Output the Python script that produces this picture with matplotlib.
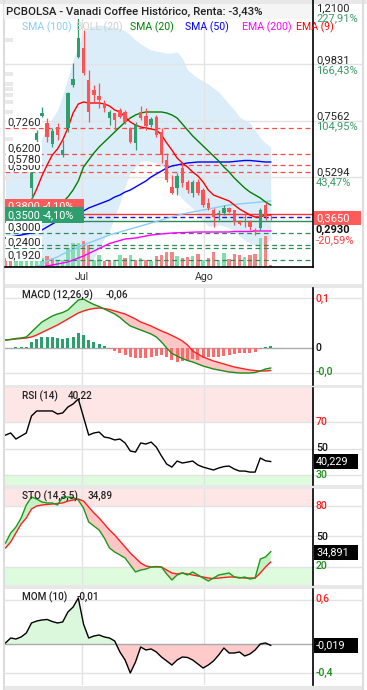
import matplotlib
matplotlib.use('Agg')
import matplotlib.pyplot as plt
import numpy as np
from matplotlib.patches import Rectangle
from matplotlib.lines import Line2D

plt.rcParams['font.family'] = ['Roboto', 'DejaVu Sans']
plt.rcParams['lines.scale_dashes'] = False

# ---------------- data ----------------
opens = [0.392, 0.385, 0.376, 0.382, 0.390, 0.4836, 0.6775, 0.776, 0.746, 0.6614,
         0.730, 0.6169, 0.726, 0.8997, 1.0128, 1.0492, 0.9199, 0.8795, 0.8553, 0.827,
         0.7664, 0.7866, 0.7987, 0.7906, 0.726, 0.6654, 0.7906, 0.7745, 0.7381, 0.7704,
         0.7098, 0.5967, 0.4876, 0.4836, 0.5644, 0.5078, 0.4634, 0.5078, 0.4755, 0.423,
         0.3947, 0.3745, 0.3826, 0.4028, 0.3947, 0.3462, 0.3664, 0.3462, 0.3139, 0.322,
         0.4149, 0.3664]
highs = [0.400, 0.392, 0.388, 0.396, 0.412, 0.5523, 0.7179, 0.8108, 0.7664, 0.726,
         0.746, 0.6775, 0.8714, 0.9886, 1.21, 1.122, 0.9603, 0.8997, 0.9078, 0.8391,
         0.7987, 0.7866, 0.8068, 0.7987, 0.730, 0.7502, 0.8149, 0.8068, 0.7704, 0.7785,
         0.726, 0.625, 0.536, 0.5442, 0.5846, 0.5159, 0.5159, 0.520, 0.4836, 0.4432,
         0.4028, 0.3947, 0.4149, 0.4068, 0.3947, 0.3543, 0.3826, 0.3543, 0.322, 0.4028,
         0.427, 0.3745]
lows = [0.378, 0.370, 0.370, 0.378, 0.385, 0.423, 0.6694, 0.7704, 0.6694, 0.6492,
        0.6775, 0.6088, 0.7098, 0.8916, 1.0088, 0.9401, 0.7502, 0.831, 0.8068, 0.7906,
        0.7381, 0.7179, 0.7664, 0.7422, 0.6654, 0.6371, 0.7583, 0.7179, 0.730, 0.6896,
        0.5846, 0.5078, 0.458, 0.4553, 0.4876, 0.4634, 0.4472, 0.4553, 0.4068, 0.3947,
        0.326, 0.3543, 0.3745, 0.3826, 0.3341, 0.3341, 0.326, 0.3139, 0.293, 0.3139,
        0.3543, 0.3543]
closes = [0.383, 0.378, 0.384, 0.392, 0.405, 0.5442, 0.7058, 0.786, 0.6896, 0.7139,
          0.6977, 0.6371, 0.8674, 0.924, 1.0896, 0.9482, 0.7906, 0.8593, 0.8391, 0.8068,
          0.7906, 0.7583, 0.7704, 0.7502, 0.6694, 0.7381, 0.7664, 0.7341, 0.7624, 0.6977,
          0.6169, 0.5159, 0.4634, 0.5321, 0.5038, 0.4755, 0.5078, 0.4634, 0.4149, 0.4028,
          0.3664, 0.3826, 0.4028, 0.3866, 0.3462, 0.3381, 0.3624, 0.326, 0.3099, 0.3947,
          0.3664, 0.365]
volume = [95, 85, 80, 75, 85, 100, 95, 90, 107, 90, 73, 73, 190, 240, 240, 257, 217, 73,
          123, 63, 73, 73, 117, 90, 117, 73, 90, 73, 57, 107, 117, 150, 150, 107, 90, 97,
          107, 130, 73, 90, 150, 73, 140, 83, 130, 117, 97, 123, 130, 290, 307, 23]
volume_up = [0, 0, 1, 1, 1, 1, 1, 1, 0, 0, 1, 1, 1, 1, 1, 0, 0, 1, 1, 0, 0, 1, 1, 0, 1, 0,
             1, 0, 1, 0, 0, 0, 0, 1, 0, 0, 1, 0, 1, 0, 0, 1, 1, 0, 0, 0, 1, 0, 0, 1, 0, 0]
ema9 = [0.3866, 0.3866, 0.3907, 0.3947, 0.4028, 0.4351, 0.4796, 0.5321, 0.5765, 0.6169,
        0.6412, 0.6775, 0.726, 0.7866, 0.823, 0.831, 0.827, 0.827, 0.827, 0.823,
        0.8149, 0.7987, 0.7906, 0.7704, 0.7502, 0.7381, 0.730, 0.726, 0.722, 0.7179,
        0.6977, 0.6654, 0.6371, 0.6048, 0.5846, 0.5684, 0.5482, 0.5321, 0.5078, 0.4755,
        0.4553, 0.4472, 0.4392, 0.4311, 0.4149, 0.3987, 0.3866, 0.3745, 0.3664, 0.3664,
        0.3745, 0.3745]
sma20 = [0.3786, 0.3786, 0.3826, 0.3826, 0.3866, 0.3866, 0.3866, 0.3907, 0.3907, 0.3947,
         0.4068, 0.427, 0.4472, 0.4755, 0.5119, 0.5684, 0.5967, 0.625, 0.6492, 0.6694,
         0.6896, 0.7098, 0.730, 0.7502, 0.7664, 0.7785, 0.7866, 0.7906, 0.7906, 0.7906,
         0.7906, 0.7866, 0.7785, 0.7664, 0.7422, 0.7179, 0.6937, 0.6735, 0.6533, 0.6331,
         0.6129, 0.5927, 0.5684, 0.5482, 0.524, 0.5038, 0.4836, 0.4674, 0.4553, 0.4432,
         0.427, 0.4149]
sma50 = [0.2816, 0.2856, 0.2897, 0.2937, 0.2978, 0.3018, 0.3058, 0.3139, 0.326, 0.3382,
         0.3503, 0.3584, 0.3664, 0.3745, 0.3826, 0.3907, 0.4028, 0.4109, 0.419, 0.427,
         0.4351, 0.4472, 0.4553, 0.4674, 0.4755, 0.4876, 0.4998, 0.5119, 0.528, 0.5402,
         0.5523, 0.5644, 0.5725, 0.5765, 0.5806, 0.5846, 0.5866, 0.5886, 0.5886, 0.5886,
         0.5886, 0.5886, 0.5886, 0.5886, 0.5906, 0.5927, 0.5947, 0.5947, 0.5927, 0.5906,
         0.5886, 0.5886]
sma100 = [0.0917, 0.1039, 0.1160, 0.1281, 0.1402, 0.1523, 0.1644, 0.1765, 0.1887, 0.1967,
          0.2048, 0.2170, 0.2250, 0.2331, 0.2452, 0.2533, 0.2614, 0.2695, 0.2775, 0.2856,
          0.2937, 0.2998, 0.3058, 0.3119, 0.3180, 0.3240, 0.3301, 0.3361, 0.3422, 0.3483,
          0.3543, 0.3604, 0.3664, 0.3725, 0.3786, 0.3826, 0.3866, 0.3907, 0.3947, 0.3988,
          0.4028, 0.4068, 0.4109, 0.4149, 0.4169, 0.4190, 0.4210, 0.4230, 0.4250, 0.4270,
          0.4291, 0.4311]
ema200 = [0.1240, 0.1301, 0.1362, 0.1422, 0.1483, 0.1543, 0.1604, 0.1644, 0.1685, 0.1725,
          0.1765, 0.1806, 0.1846, 0.1927, 0.2008, 0.2088, 0.2190, 0.2291, 0.2392, 0.2493,
          0.2594, 0.2654, 0.2715, 0.2775, 0.2795, 0.2816, 0.2856, 0.2897, 0.2937, 0.2957,
          0.2978, 0.2998, 0.3018, 0.3026, 0.3034, 0.3042, 0.3050, 0.3058, 0.3058, 0.3058,
          0.3058, 0.3058, 0.3058, 0.3058, 0.3079, 0.3079, 0.3079, 0.3079, 0.3099, 0.3099,
          0.3099, 0.3099]
boll_upper = [0.5483, 0.5523, 0.5563, 0.5604, 0.5644, 0.5765, 0.6371, 0.6856, 0.7300, 0.7664,
              0.7987, 0.8593, 0.9280, 1.0007, 1.0613, 1.1098, 1.1300, 1.1381, 1.1421, 1.1401,
              1.1361, 1.1320, 1.1280, 1.1179, 1.1017, 1.0815, 1.0654, 1.0532, 1.0411, 1.0371,
              1.0331, 1.0290, 1.0290, 1.0331, 1.0088, 0.9603, 0.9442, 0.9280, 0.9159, 0.9038,
              0.8876, 0.8715, 0.8472, 0.8230, 0.7987, 0.7704, 0.7583, 0.7462, 0.7179, 0.6856,
              0.6654, 0.6493]
boll_lower = [0.2816, 0.2735, 0.2654, 0.2614, 0.2574, 0.2331, 0.1847, 0.13, 0.09, 0.06,
              0.04, 0.03, 0.03, 0.04, 0.06, 0.10, 0.15, 0.20, 0.24, 0.28,
              0.31, 0.37, 0.422, 0.49, 0.546, 0.57, 0.59, 0.595, 0.59, 0.585,
              0.575, 0.55, 0.51, 0.465, 0.44, 0.42, 0.40, 0.375, 0.35, 0.33,
              0.3301, 0.3341, 0.3301, 0.3220, 0.3058, 0.2897, 0.2735, 0.2614, 0.2533, 0.2493,
              0.2614, 0.2735]
macd = [0.016, 0.017, 0.019, 0.020, 0.022, 0.032, 0.042, 0.052, 0.058, 0.064,
        0.068, 0.071, 0.076, 0.086, 0.096, 0.098, 0.092, 0.087, 0.083, 0.078,
        0.073, 0.068, 0.061, 0.052, 0.044, 0.040, 0.036, 0.032, 0.028, 0.022,
        0.012, 0.000, -0.011, -0.016, -0.021, -0.025, -0.028, -0.032, -0.036, -0.039,
        -0.042, -0.044, -0.046, -0.048, -0.049, -0.050, -0.050, -0.050, -0.049, -0.046,
        -0.042, -0.040]
macd_signal = [0.016, 0.017, 0.018, 0.019, 0.020, 0.022, 0.026, 0.031, 0.036, 0.041,
               0.046, 0.052, 0.058, 0.064, 0.070, 0.074, 0.077, 0.079, 0.080, 0.079,
               0.077, 0.074, 0.071, 0.068, 0.063, 0.058, 0.052, 0.048, 0.044, 0.039,
               0.034, 0.030, 0.025, 0.020, 0.014, 0.006, -0.006, -0.012, -0.018, -0.022,
               -0.026, -0.029, -0.032, -0.035, -0.038, -0.040, -0.042, -0.044, -0.045, -0.046,
               -0.046, -0.045]
macd_hist = [0.001, 0.001, 0.002, 0.002, 0.002, 0.013, 0.018, 0.023, 0.023, 0.022,
             0.020, 0.018, 0.020, 0.022, 0.030, 0.027, 0.017, 0.013, 0.008, 0.005,
             -0.002, -0.005, -0.009, -0.013, -0.017, -0.019, -0.020, -0.020, -0.018, -0.015,
             -0.013, -0.017, -0.023, -0.027, -0.025, -0.023, -0.022, -0.023, -0.020, -0.018,
             -0.018, -0.017, -0.015, -0.013, -0.011, -0.010, -0.009, -0.009, -0.007, -0.001,
             0.003, 0.005]
rsi = [60.3, 61.9, 57.3, 59.6, 61.9, 74.8, 78.6, 78.6, 78.6, 78.6,
       76.3, 77.1, 81.6, 83.9, 87.7, 74.0, 60.3, 61.9, 62.6, 58.8,
       58.1, 56.6, 57.3, 54.3, 48.2, 47.4, 54.3, 53.5, 55.0, 51.2,
       44.4, 38.3, 36.0, 40.6, 39.1, 39.8, 40.6, 37.6, 36.0, 34.9,
       33.8, 35.3, 36.4, 36.8, 34.5, 33.0, 33.0, 32.2, 32.2, 42.9,
       40.8, 40.229]
sto_k = [43.4, 53.3, 59.2, 68.1, 81.0, 88.9, 86.9, 84.0, 83.0, 83.0,
         81.0, 88.9, 88.9, 88.4, 85.9, 78.0, 64.2, 60.2, 56.3, 48.4,
         38.5, 34.5, 31.6, 28.6, 21.7, 14.8, 16.7, 17.7, 19.7, 19.7,
         19.7, 12.8, 6.9, 11.8, 13.8, 11.8, 14.8, 11.8, 8.8, 5.9,
         8.8, 11.8, 12.8, 13.8, 9.8, 8.8, 9.8, 7.8, 8.8, 27.6,
         29.6, 34.891]
sto_d = [38.5, 44.4, 53.3, 62.2, 68.1, 77.0, 80.0, 81.0, 81.5, 82.0,
         82.5, 83.0, 84.9, 85.9, 86.9, 84.9, 79.0, 73.1, 68.1, 62.2,
         56.3, 51.3, 45.4, 39.5, 33.5, 28.6, 23.7, 20.7, 19.7, 20.2,
         19.7, 16.7, 13.8, 12.8, 13.8, 12.8, 11.8, 10.8, 9.8, 8.8,
         8.3, 8.8, 9.3, 9.8, 9.8, 9.3, 8.8, 8.8, 8.8, 13.8,
         19.7, 24.6]
mom = [0.014, 0.082, 0.068, 0.096, 0.150, 0.287, 0.314, 0.328, 0.335, 0.307,
       0.287, 0.301, 0.437, 0.505, 0.628, 0.273, 0.082, 0.109, 0.123, 0.096,
       0.082, 0.041, -0.109, -0.219, -0.396, -0.246, -0.041, -0.082, -0.068, -0.109,
       -0.178, -0.232, -0.287, -0.219, -0.178, -0.184, -0.219, -0.273, -0.328, -0.287,
       -0.232, -0.150, -0.055, -0.123, -0.123, -0.109, -0.164, -0.137, -0.082, 0.000,
       0.014, -0.019]
resistance_levels = [0.726, 0.62, 0.578, 0.55]
support_levels = [0.30, 0.253, 0.24, 0.192]
month_labels = ['Jul', 'Ago']
month_index = [14.71, 38.17]
price_ticks = [1.2100, 0.9831, 0.7562, 0.5294]
price_pct = ['227,91%', '166,43%', '104,95%', '43,47%']

# ---------------- layout helpers ----------------
W, H = 367, 690
fig = plt.figure(figsize=(W / 100, H / 100), dpi=100)
fig.patch.set_facecolor('white')

X0, DX = 5.5, 5.2           # pixel of index 0, pixel step
LPX, RPX = 5, 313
XLIM = ((LPX - X0) / DX, (RPX - X0) / DX)
EXT = (362 - LPX) / (RPX - LPX)   # axes fraction reaching the outer frame

def add_ax(t, b):
    ax = fig.add_axes([LPX / W, 1 - b / H, (RPX - LPX) / W, (b - t) / H])
    ax.set_xlim(*XLIM)
    ax.patch.set_alpha(0)
    for s in ax.spines.values():
        s.set_visible(False)
    ax.set_xticks([])
    ax.set_yticks([])
    return ax

def ftext(x, y, s, **kw):
    kw.setdefault('va', 'center')
    kw.setdefault('ha', 'left')
    kw.setdefault('fontsize', 8.0)
    kw.setdefault('color', '#222222')
    kw.setdefault('zorder', 20)
    return fig.text(x / W, 1 - y / H, s, **kw)

def frect(x0, y0, x1, y1, color, z=15):
    fig.add_artist(Rectangle((x0 / W, 1 - y1 / H), (x1 - x0) / W, (y1 - y0) / H,
                             transform=fig.transFigure, facecolor=color,
                             edgecolor='none', zorder=z))

def fline(x0, y0, x1, y1, color='black', lw=1.0, z=16):
    fig.add_artist(Line2D([x0 / W, x1 / W], [1 - y0 / H, 1 - y1 / H],
                          transform=fig.transFigure, color=color, lw=lw, zorder=z))

GRID = '#e3e3e3'
x = np.arange(len(closes))
o, h, l, c = map(np.array, (opens, highs, lows, closes))

# ---------------- frame & separators ----------------
frect(0, 0, 367, 3.5, '#e8e8e8', z=0.1)
for (y0, y1) in [(284, 287.5), (385, 388), (485, 489), (585, 589), (686, 690)]:
    frect(3, y0, 363, y1, '#e8e8e8', z=0.1)
fline(3.5, 0, 3.5, 690, '#dddddd', 1.5, z=0.2)
fline(362.5, 0, 362.5, 690, '#dddddd', 1.5, z=0.2)

# ---------------- main price panel ----------------
PT, PB = 2, 267
YLO, YHI = 0.1644, 1.2350
ax = add_ax(PT, PB)
ax.set_ylim(YLO, YHI)

ax.fill_between(x, boll_lower, boll_upper, color='#dcedfa', lw=0, zorder=0.5)
for t in price_ticks[1:]:
    ax.axhline(t, xmin=0, xmax=EXT, color=GRID, lw=1, zorder=0.8, clip_on=False)
for m in month_index:
    ax.axvline(m, color=GRID, lw=1, zorder=0.8)

# volume bars at the bottom of the price panel (35 px band = 350 units)
vol_scale = (YHI - YLO) / (PB - PT) * 35 / 350
vcol = ['#80dfaa' if u else '#f58585' for u in volume_up]
ax.bar(x, np.array(volume) * vol_scale, bottom=YLO, width=0.68, color=vcol, zorder=1)

for lv in resistance_levels:
    ax.axhline(lv, color='#ff4a4a', lw=0.9, ls=(0, (3.5, 2.5)), zorder=2)
for lv in support_levels:
    ax.axhline(lv, color='#2e8b57', lw=0.9, ls=(0, (3.5, 2.5)), zorder=2)
ax.axhline(0.38, color='#ff3333', lw=1.0, zorder=2)
ax.axhline(0.35, color='#2e8b57', lw=1.0, zorder=2)
ax.axhline(0.365, color='#1a1acc', lw=1.0, ls=(0, (3.5, 2.5)), zorder=2)

ax.plot(x, sma100, color='#87cefa', lw=1.0, zorder=3)
ax.plot(x, ema200, color='#ff00ff', lw=1.0, zorder=3)
ax.plot(x, sma50, color='#0000ff', lw=1.0, zorder=3)
ax.plot(x, sma20, color='#008000', lw=1.0, zorder=3)
ax.plot(x, ema9, color='#ff0000', lw=1.0, zorder=3)

up = c >= o
ccol = np.where(up, '#2e9e6e', '#ff5252')
ax.vlines(x, l, h, colors=ccol, lw=0.9, zorder=4)
body = np.maximum(np.abs(c - o), 0.0025)
ax.bar(x, body, bottom=np.minimum(o, c), width=0.64, color=ccol, zorder=5)

fline(RPX, 0, RPX, PB, 'black', 1.2)
fline(LPX, PB, RPX, PB, 'black', 1.2)

# ghost placeholders on the left edge
for yy in [40, 74, 83.5, 88.5, 95, 101.5, 111.5, 138.5, 168.5, 177.5]:
    frect(5, yy - 2, 12.5, yy + 2, '#e9e9e9', z=14)

# header
frect(4, 3.5, RPX, 18.5, '#f5f5f5', z=14)
ftext(6, 11.5, 'PCBOLSA - Vanadi Coffee Histórico, Renta: -3,43%', fontsize=8.2,
      fontweight='medium')
legend_items = [('SMA (100)', '#87cefa', 22), ('BOLL (20)', '#d0d0d0', 76),
                ('SMA (20)', '#008000', 130), ('SMA (50)', '#0000ff', 185),
                ('EMA (200)', '#ff00ff', 242), ('EMA (9)', '#ff0000', 296)]
for s, col, xx in legend_items:
    ftext(xx, 27, s, color=col, fontsize=7.6)

# left level labels
white = dict(facecolor='white', edgecolor='none', pad=1.0)
ftext(7, 122, '0,7260', bbox=white)
ftext(7, 148, '0,6200', bbox=white)
ftext(7, 166, '0,5500', bbox=white)
ftext(7, 159, '0,5780', bbox=white)
ftext(7, 227, '0,3000', bbox=white)
ftext(7, 242, '0,2400', bbox=white)
ftext(7, 255, '0,1920', bbox=white)
frect(5, 199, 84, 213, '#ff5a5a', z=18)
ftext(7, 206, '0,3800', color='white', zorder=18.5, fontsize=7.8)
ftext(43, 206, '-4,10%', color='white', zorder=18.5, fontsize=7.8)
frect(5, 207, 84, 222.5, '#2e9e6e', z=19)
ftext(7, 215, '0,3500', color='white', zorder=19.5, fontsize=7.8)
ftext(43, 215, '-4,10%', color='white', zorder=19.5, fontsize=7.8)

# right price labels
ypos = [8.5, 60, 116, 172.5]
for t, pc, yy in zip(price_ticks, price_pct, ypos):
    ftext(316, yy, ('%.4f' % t).replace('.', ','))
    ftext(316, yy + 10, pc, color='#3a9a6a')
frect(314, 211, 361, 225, '#ff5a5a', z=18)
ftext(316, 218, '0,3650', color='white', zorder=19)
ftext(316, 230, '0,2930', fontweight='bold', color='#111111')
ftext(316, 240.5, '-20,59%', color='#ff4040')

# month labels
for s, m in zip(month_labels, month_index):
    ftext(X0 + DX * m, 277, s, ha='center', fontsize=7.6, color='#333333')

# ---------------- indicator panels ----------------
def panel(t, b, lo, hi, grid_vals):
    a = add_ax(t, b)
    a.set_ylim(lo, hi)
    for g in grid_vals:
        a.axhline(g, xmin=0, xmax=EXT, color=GRID, lw=1, zorder=0.8, clip_on=False)
    for m in month_index:
        a.axvline(m, color=GRID, lw=1, zorder=0.8)
    fline(RPX, t, RPX, b, 'black', 1.2)
    return a

def valbox(y, s):
    frect(314, y - 7.5, 358, y + 7.5, 'black', z=18)
    ftext(316, y, s, color='white', fontsize=7.8, zorder=19)

# MACD
mt, mb = 288, 385
a1 = panel(mt, mb, -(mb - 348) * 0.002, (348 - mt) * 0.002, [0.1, -0.05])
mc, ms = np.array(macd), np.array(macd_signal)
a1.axhline(0, color='#aaaaaa', lw=1, zorder=1)
hcol = ['#2e9e6e' if v >= 0 else '#ff6b6b' for v in macd_hist]
a1.bar(x, macd_hist, width=0.6, color=hcol, zorder=2)
a1.fill_between(x, mc, ms, where=mc >= ms, interpolate=True, color='#c4f2c4', lw=0, zorder=1.5)
a1.fill_between(x, mc, ms, where=mc < ms, interpolate=True, color='#ffc6c6', lw=0, zorder=1.5)
a1.plot(x, ms, color='#ff2020', lw=1, zorder=3)
a1.plot(x, mc, color='#1a8f1a', lw=1, zorder=3)
ftext(22, 295, 'MACD (12,26,9)', fontsize=7.2, fontweight='medium')
ftext(106, 295, '-0,06', fontsize=7.2, fontweight='medium')
ftext(316, 299, '0,1', color='#ff2020', fontsize=7.6, fontweight='medium')
ftext(316, 348, '0', color='#111111', fontsize=7.6, fontweight='medium')
ftext(316, 372, '-0,0', color='#1a8f1a', fontsize=7.6, fontweight='medium')

# RSI
rt, rb = 388, 485
k = 1.3175
a2 = panel(rt, rb, 30 - (rb - 475) / k, 70 + (422.3 - rt) / k, [70, 50, 30])
a2.axhspan(70, 200, color='#ffe6e6', lw=0, zorder=0.3)
a2.axhspan(-100, 30, color='#defbde', lw=0, zorder=0.3)
a2.plot(x, rsi, color='black', lw=1, zorder=3)
ftext(22, 396, 'RSI (14)', fontsize=7.2, fontweight='medium')
ftext(68, 396, '40,22', fontsize=7.2, fontweight='medium')
ftext(316, 422, '70', color='#ff2020', fontsize=7.6, fontweight='medium')
ftext(316, 448, '50', color='#111111', fontsize=7.6, fontweight='medium')
ftext(316, 474.5, '30', color='#1a8f1a', fontsize=7.6, fontweight='medium')
valbox(461.5, '40,229')

# STO
st, sb = 489, 585
k2 = 1.0117
a3 = panel(st, sb, 20 - (sb - 566.7) / k2, 80 + (506 - st) / k2, [80, 50, 20])
a3.axhspan(80, 200, color='#ffe6e6', lw=0, zorder=0.3)
a3.axhspan(-100, 20, color='#defbde', lw=0, zorder=0.3)
sk, sd = np.array(sto_k), np.array(sto_d)
a3.fill_between(x, sk, sd, where=sk >= sd, interpolate=True, color='#c4f2c4', lw=0, zorder=1.5)
a3.fill_between(x, sk, sd, where=sk < sd, interpolate=True, color='#ffc6c6', lw=0, zorder=1.5)
a3.plot(x, sd, color='#ff2020', lw=1, zorder=3)
a3.plot(x, sk, color='#1a9a1a', lw=1, zorder=3)
ftext(22, 496, 'STO (14,3,5)', fontsize=7.2, fontweight='medium')
ftext(88, 496, '34,89', fontsize=7.2, fontweight='medium')
ftext(316, 506, '80', color='#ff2020', fontsize=7.6, fontweight='medium')
ftext(316, 537, '50', color='#111111', fontsize=7.6, fontweight='medium')
ftext(316, 566, '20', color='#1a8f1a', fontsize=7.6, fontweight='medium')
valbox(552, '34,891')

# MOM
ot, ob = 589, 685
k3 = 73.2
a4 = panel(ot, ob, -(ob - 644) / k3, (644 - ot) / k3, [0.6, -0.4])
mm = np.array(mom)
a4.fill_between(x, mm, 0, where=mm >= 0, interpolate=True, color='#dcf8dc', lw=0, zorder=1.5)
a4.fill_between(x, mm, 0, where=mm < 0, interpolate=True, color='#ffcaca', lw=0, zorder=1.5)
a4.axhline(0, color='#aaaaaa', lw=1, zorder=1.6)
a4.plot(x, mm, color='black', lw=1, zorder=3)
ftext(22, 597, 'MOM (10)', fontsize=7.2, fontweight='medium')
ftext(77, 597, '-0,01', fontsize=7.2, fontweight='medium')
ftext(316, 599, '0,6', color='#ff2020', fontsize=7.6, fontweight='medium')
ftext(316, 673, '-0,4', color='#1a8f1a', fontsize=7.6, fontweight='medium')
valbox(645, '-0,019')

fig.savefig('out.png', dpi=100, facecolor='white')
